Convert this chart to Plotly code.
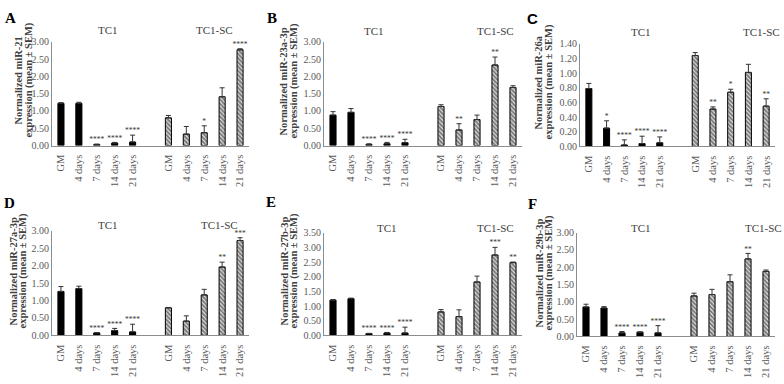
import plotly.graph_objects as go

# ---------------- data ----------------
categories = ["GM", "4 days", "7 days", "14 days", "21 days"]
group_names = ["TC1", "TC1-SC"]
panel_letters = ["A", "B", "C", "D", "E", "F"]
mirna_names = ["miR-21", "miR-23a-3p", "miR-26a", "miR-27a-3p", "miR-27b-3p", "miR-29b-3p"]

a_tc1_mean = [1.22, 1.22, 0.03, 0.07, 0.10]
a_tc1_err = [0.02, 0.03, 0.01, 0.02, 0.20]
a_tc1_sig = ["", "", "****", "****", "****"]
a_sc_mean = [0.80, 0.33, 0.37, 1.41, 2.77]
a_sc_err = [0.07, 0.22, 0.20, 0.26, 0.03]
a_sc_sig = ["", "", "*", "", "****"]

b_tc1_mean = [0.88, 0.96, 0.03, 0.05, 0.08]
b_tc1_err = [0.10, 0.11, 0.02, 0.04, 0.10]
b_tc1_sig = ["", "", "****", "****", "****"]
b_sc_mean = [1.13, 0.45, 0.75, 2.33, 1.68]
b_sc_err = [0.05, 0.18, 0.13, 0.23, 0.05]
b_sc_sig = ["", "**", "", "**", ""]

c_tc1_mean = [0.79, 0.25, 0.02, 0.04, 0.05]
c_tc1_err = [0.07, 0.10, 0.07, 0.10, 0.08]
c_tc1_sig = ["", "*", "****", "****", "****"]
c_sc_mean = [1.24, 0.51, 0.74, 1.01, 0.55]
c_sc_err = [0.04, 0.03, 0.04, 0.11, 0.10]
c_sc_sig = ["", "**", "*", "", "**"]

d_tc1_mean = [1.26, 1.34, 0.07, 0.14, 0.10]
d_tc1_err = [0.14, 0.07, 0.01, 0.06, 0.22]
d_tc1_sig = ["", "", "****", "****", "****"]
d_sc_mean = [0.79, 0.41, 1.16, 1.96, 2.72]
d_sc_err = [0.01, 0.15, 0.16, 0.14, 0.08]
d_sc_sig = ["", "", "", "**", "***"]

e_tc1_mean = [1.20, 1.25, 0.06, 0.08, 0.08]
e_tc1_err = [0.02, 0.02, 0.01, 0.02, 0.20]
e_tc1_sig = ["", "", "****", "****", "****"]
e_sc_mean = [0.80, 0.64, 1.82, 2.74, 2.48]
e_sc_err = [0.08, 0.23, 0.20, 0.26, 0.02]
e_sc_sig = ["", "", "", "***", "**"]

f_tc1_mean = [0.85, 0.82, 0.10, 0.12, 0.10]
f_tc1_err = [0.08, 0.04, 0.04, 0.01, 0.21]
f_tc1_sig = ["", "", "****", "****", "****"]
f_sc_mean = [1.17, 1.21, 1.58, 2.24, 1.88]
f_sc_err = [0.08, 0.15, 0.20, 0.16, 0.04]
f_sc_sig = ["", "", "", "**", ""]

panels = [
    (a_tc1_mean, a_tc1_err, a_tc1_sig, a_sc_mean, a_sc_err, a_sc_sig),
    (b_tc1_mean, b_tc1_err, b_tc1_sig, b_sc_mean, b_sc_err, b_sc_sig),
    (c_tc1_mean, c_tc1_err, c_tc1_sig, c_sc_mean, c_sc_err, c_sc_sig),
    (d_tc1_mean, d_tc1_err, d_tc1_sig, d_sc_mean, d_sc_err, d_sc_sig),
    (e_tc1_mean, e_tc1_err, e_tc1_sig, e_sc_mean, e_sc_err, e_sc_sig),
    (f_tc1_mean, f_tc1_err, f_tc1_sig, f_sc_mean, f_sc_err, f_sc_sig),
]

# ---------------- layout (pixels) ----------------
W, H = 784, 384
def px(x):
    return x / W
def py(y):
    return 1 - y / H

# plot area: x0, x1, ytop, ybottom
areas = [
    (52, 249, 37, 144),
    (324, 522, 37, 144),
    (580, 775, 39, 145),
    (52, 249, 232, 340),
    (324, 522, 234, 340),
    (577, 775, 234, 341),
]
y_max = [3.0, 3.0, 1.4, 3.0, 3.5, 3.0]
y_step = [0.5, 0.5, 0.2, 0.5, 0.5, 0.5]
ytitle_pos = [(19, 29, 77), (284, 294, 78), (539, 549, 79),
              (13, 23, 274), (284, 294, 274), (539, 549, 276)]
group_label_pos = [((108, 25), (214, 25)), ((374, 26), (495, 26)), ((641, 27), (761, 27)),
                   ((108, 226), (219, 226)), ((387, 229), (495, 229)), ((641, 229), (763, 229))]
letter_pos = [(10, 12), (272, 12), (532, 13), (9, 203), (271, 202), (532, 204)]

SERIF = "Liberation Serif"
TICK_COL = "#595959"
TITLE_COL = "#404040"
AXIS_COL = "#8c8c8c"

x_tc1 = [0, 1, 2, 3, 4]
x_sc = [6, 7, 8, 9, 10]
tickvals = x_tc1 + x_sc
ticktext = categories + categories

fig = go.Figure()
annotations = []

for i, (tm, te, ts, sm, se, ss) in enumerate(panels):
    n = i + 1
    xa = "x" if n == 1 else f"x{n}"
    ya = "y" if n == 1 else f"y{n}"
    fig.add_trace(go.Bar(
        x=x_tc1, y=tm, width=0.34, xaxis=xa, yaxis=ya,
        marker=dict(color="black", line=dict(color="black", width=1)),
        error_y=dict(type="data", symmetric=False, array=te, arrayminus=[0] * 5,
                     color="#333333", thickness=1, width=2.5),
        showlegend=False, hoverinfo="skip",
    ))
    fig.add_trace(go.Bar(
        x=x_sc, y=sm, width=0.34, xaxis=xa, yaxis=ya,
        marker=dict(color="white", line=dict(color="black", width=1),
                    pattern=dict(shape="\\", fgcolor="black", bgcolor="white",
                                 size=3, solidity=0.75)),
        error_y=dict(type="data", symmetric=False, array=se, arrayminus=[0] * 5,
                     color="#333333", thickness=1, width=2.5),
        showlegend=False, hoverinfo="skip",
    ))
    # significance stars
    sx, sy, st = [], [], []
    for xs, ms, es, ss_ in ((x_tc1, tm, te, ts), (x_sc, sm, se, ss)):
        for xv, mv, ev, sv in zip(xs, ms, es, ss_):
            if sv:
                sx.append(xv)
                sy.append(mv + ev)
                st.append(sv)
    fig.add_trace(go.Scatter(
        x=sx, y=sy, text=st, mode="text", textposition="top center",
        textfont=dict(family=SERIF, size=7.5, color="#333333"),
        xaxis=xa, yaxis=ya, showlegend=False, hoverinfo="skip", cliponaxis=False,
    ))

    x0, x1, yt, yb = areas[i]
    xkey = "xaxis" if n == 1 else f"xaxis{n}"
    ykey = "yaxis" if n == 1 else f"yaxis{n}"
    fig.update_layout(**{
        xkey: dict(domain=[px(x0), px(x1)], anchor=ya, range=[-0.5, 10.5],
                   tickmode="array", tickvals=tickvals, ticktext=ticktext,
                   tickangle=-90, showline=True, linecolor=AXIS_COL, linewidth=1,
                   ticks="", showgrid=False, zeroline=False, fixedrange=True,
                   tickfont=dict(family=SERIF, size=10.5, color=TICK_COL),
                   ticklabelstandoff=4),
        ykey: dict(domain=[py(yb), py(yt)], anchor=xa, range=[0, y_max[i]],
                   dtick=y_step[i], tick0=0, tickformat=".2f",
                   showline=True, linecolor=AXIS_COL, linewidth=1,
                   ticks="", showgrid=False, zeroline=False, fixedrange=True,
                   tickfont=dict(family=SERIF, size=10, color=TICK_COL)),
    })

    # y-axis titles (two lines)
    l1x, l2x, cy = ytitle_pos[i]
    annotations.append(dict(text=f"<b>Normalized {mirna_names[i]}</b>", textangle=-90,
                            x=px(l1x), y=py(cy), xref="paper", yref="paper",
                            xanchor="center", yanchor="middle", showarrow=False,
                            font=dict(family=SERIF, size=10.5, color=TITLE_COL)))
    annotations.append(dict(text="<b>expression (mean ± SEM)</b>", textangle=-90,
                            x=px(l2x), y=py(cy), xref="paper", yref="paper",
                            xanchor="center", yanchor="middle", showarrow=False,
                            font=dict(family=SERIF, size=10.5, color=TITLE_COL)))
    # group labels
    for (gx, gy), gname in zip(group_label_pos[i], group_names):
        annotations.append(dict(text=gname, x=px(gx), y=py(gy), xref="paper", yref="paper",
                                xanchor="center", yanchor="middle", showarrow=False,
                                font=dict(family=SERIF, size=11, color=TITLE_COL)))
    # panel letter
    lx, ly = letter_pos[i]
    annotations.append(dict(text=f"<b>{panel_letters[i]}</b>", x=px(lx), y=py(ly),
                            xref="paper", yref="paper", xanchor="center", yanchor="middle",
                            showarrow=False,
                            font=dict(family="Liberation Sans" if panel_letters[i] == "C" else SERIF,
                                      size=15, color="black")))

fig.update_layout(
    width=W, height=H, margin=dict(l=0, r=0, t=0, b=0),
    paper_bgcolor="white", plot_bgcolor="white",
    barmode="overlay", annotations=annotations,
)

fig.write_html("out.html")
